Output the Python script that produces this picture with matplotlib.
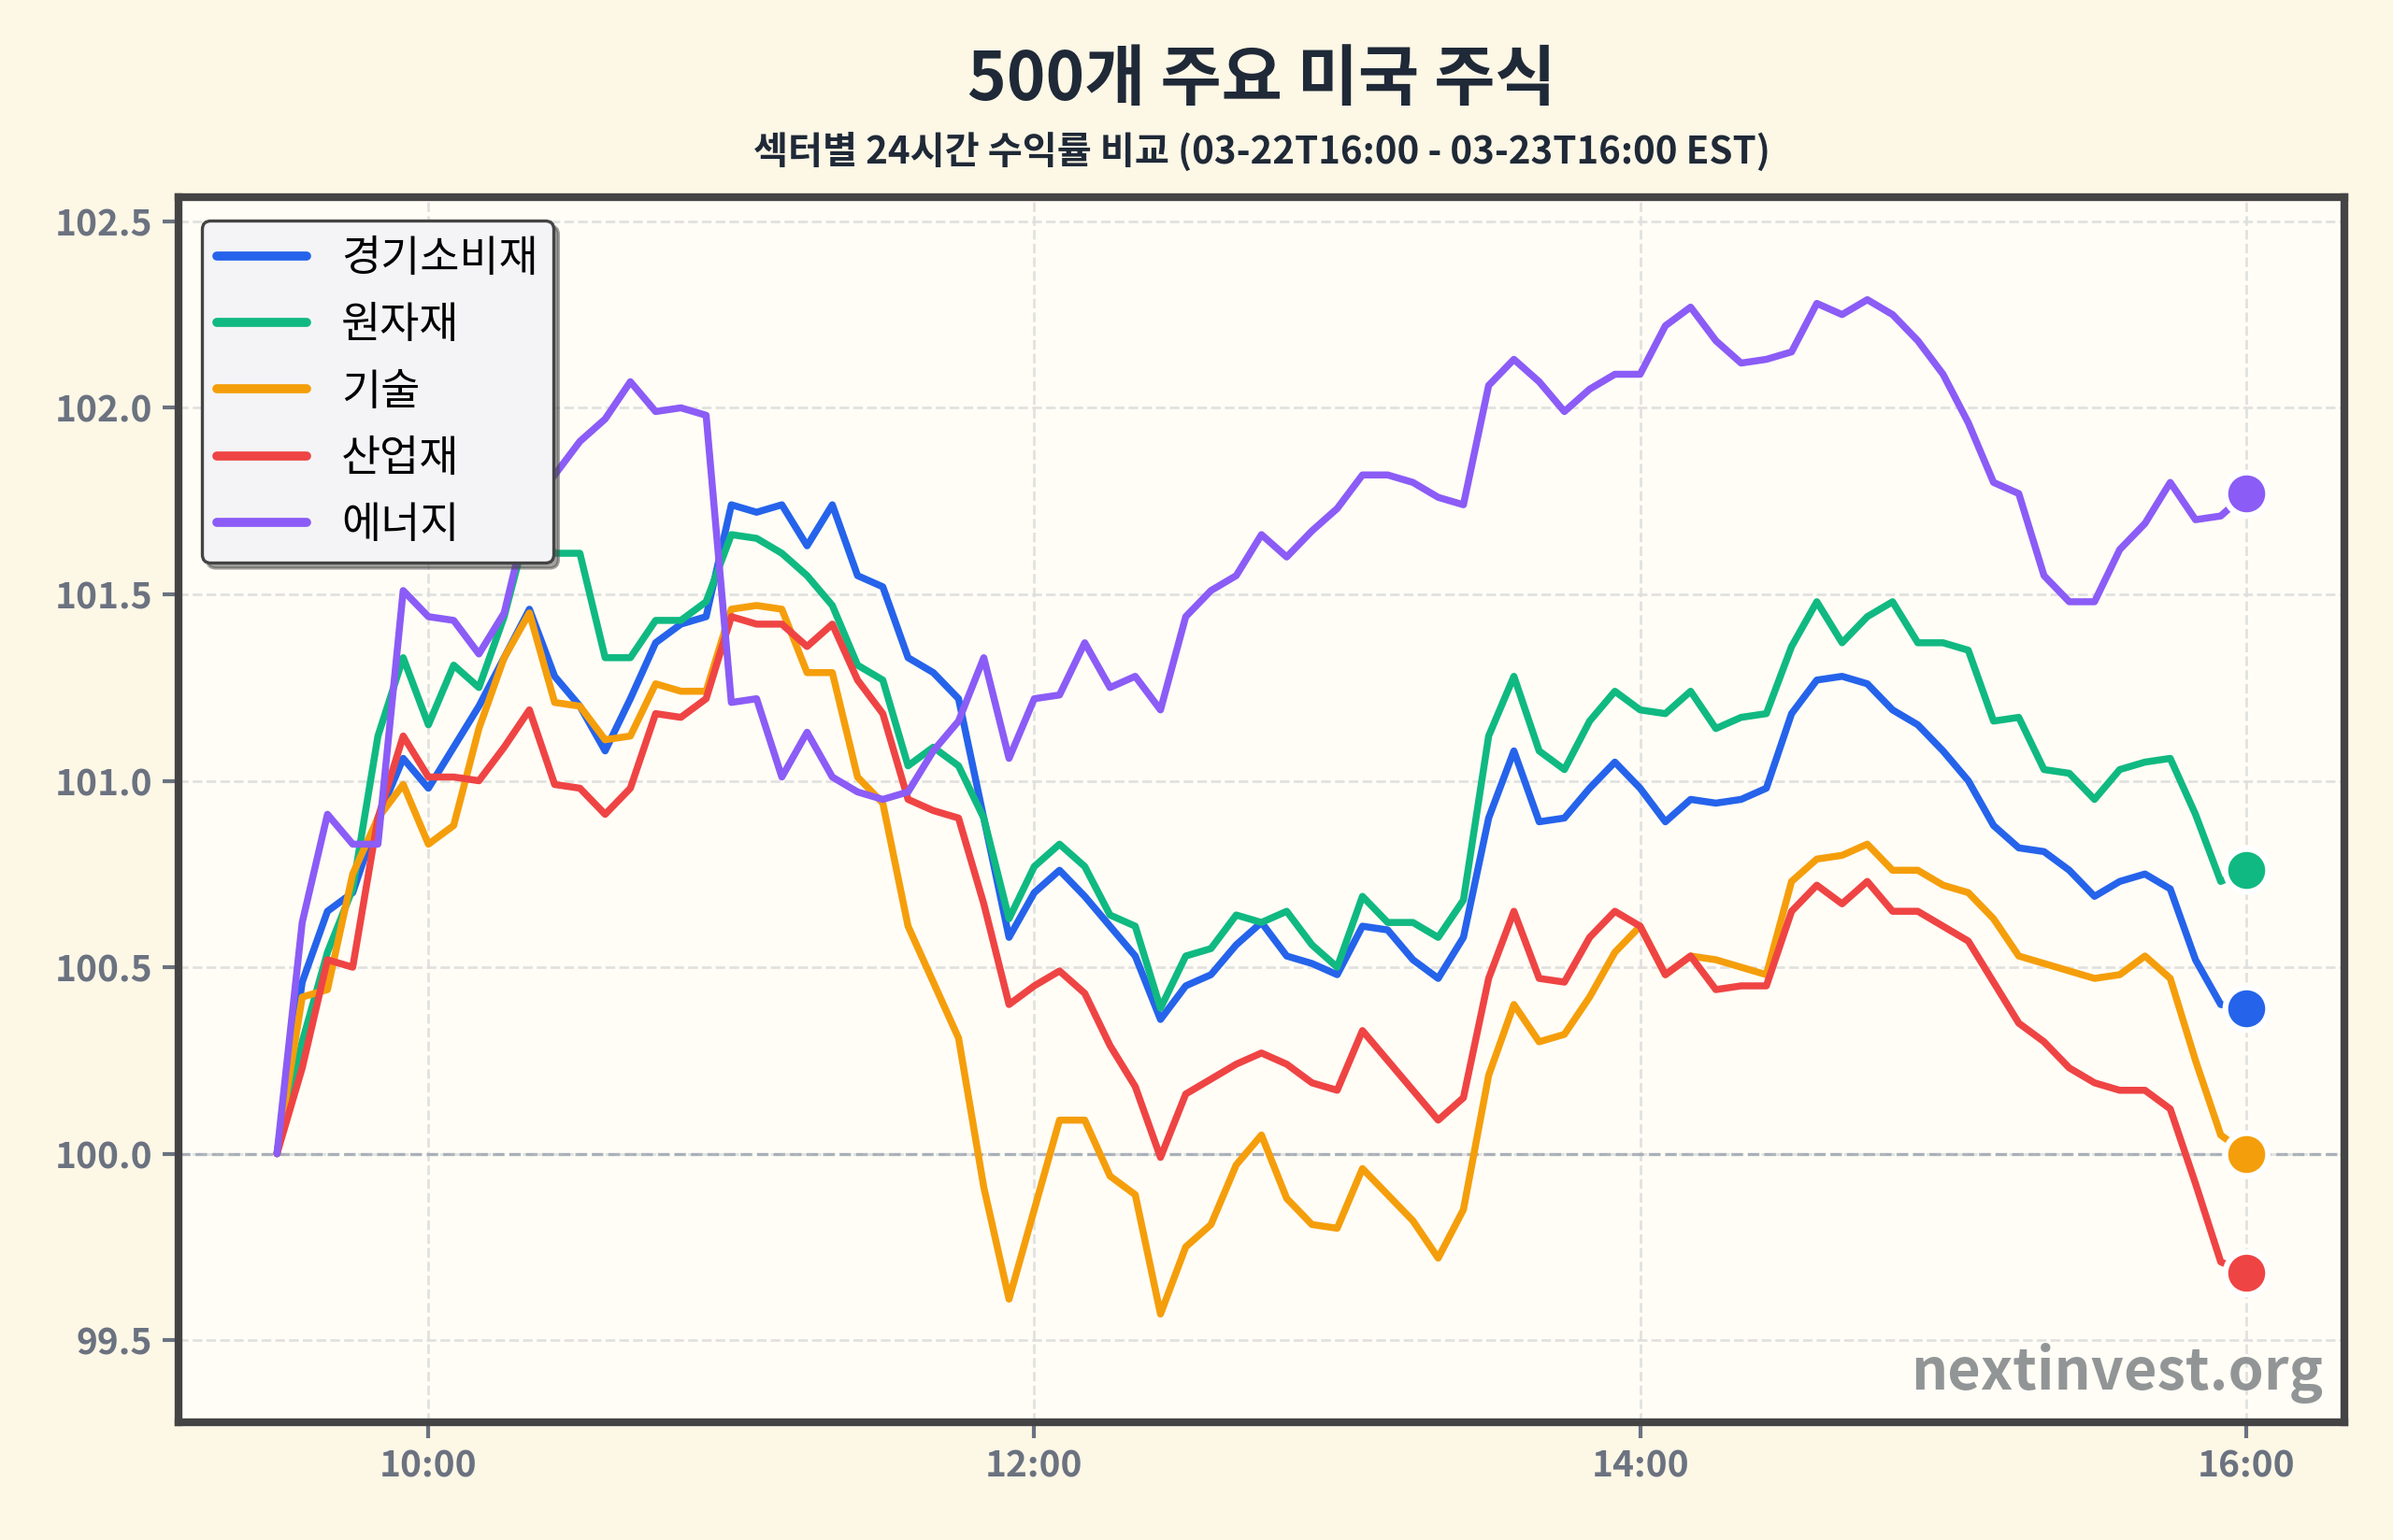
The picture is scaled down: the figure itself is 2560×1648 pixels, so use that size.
"""Sector 24h return comparison chart (S&P 500 sectors, 5-minute bars)."""

import matplotlib
matplotlib.use("Agg")
import matplotlib.pyplot as plt
import matplotlib.dates as mdates
import pandas as pd

plt.rcParams["font.family"] = ["Noto Sans CJK KR", "DejaVu Sans"]

TITLE = "500개 주요 미국 주식"
SUBTITLE = "섹터별 24시간 수익률 비교 (03-22T16:00 - 03-23T16:00 EST)"
WATERMARK = "nextinvest.org"

times = pd.date_range("2024-03-23 09:30", "2024-03-23 16:00", freq="5min")

sectors = ["경기소비재", "원자재", "기술", "산업재", "에너지"]
colors = ["#2563EB", "#10B981", "#F59E0B", "#EF4444", "#8B5CF6"]

consumer = [
    100.0, 100.46, 100.65, 100.70, 100.90, 101.06, 100.98, 101.09, 101.20, 101.33,
    101.46, 101.28, 101.20, 101.08, 101.22, 101.37, 101.42, 101.44, 101.74, 101.72,
    101.74, 101.63, 101.74, 101.55, 101.52, 101.33, 101.29, 101.22, 100.90, 100.58,
    100.70, 100.76, 100.69, 100.61, 100.53, 100.36, 100.45, 100.48, 100.56, 100.62,
    100.53, 100.51, 100.48, 100.61, 100.60, 100.52, 100.47, 100.58, 100.90, 101.08,
    100.89, 100.90, 100.98, 101.05, 100.98, 100.89, 100.95, 100.94, 100.95, 100.98,
    101.18, 101.27, 101.28, 101.26, 101.19, 101.15, 101.08, 101.00, 100.88, 100.82,
    100.81, 100.76, 100.69, 100.73, 100.75, 100.71, 100.52, 100.40, 100.39,
]
materials = [
    100.0, 100.30, 100.54, 100.71, 101.12, 101.33, 101.15, 101.31, 101.25, 101.44,
    101.70, 101.61, 101.61, 101.33, 101.33, 101.43, 101.43, 101.48, 101.66, 101.65,
    101.61, 101.55, 101.47, 101.31, 101.27, 101.04, 101.09, 101.04, 100.90, 100.63,
    100.77, 100.83, 100.77, 100.64, 100.61, 100.39, 100.53, 100.55, 100.64, 100.62,
    100.65, 100.56, 100.50, 100.69, 100.62, 100.62, 100.58, 100.68, 101.12, 101.28,
    101.08, 101.03, 101.16, 101.24, 101.19, 101.18, 101.24, 101.14, 101.17, 101.18,
    101.36, 101.48, 101.37, 101.44, 101.48, 101.37, 101.37, 101.35, 101.16, 101.17,
    101.03, 101.02, 100.95, 101.03, 101.05, 101.06, 100.91, 100.73, 100.76,
]
tech = [
    100.0, 100.42, 100.44, 100.75, 100.90, 100.99, 100.83, 100.88, 101.14, 101.33,
    101.45, 101.21, 101.20, 101.11, 101.12, 101.26, 101.24, 101.24, 101.46, 101.47,
    101.46, 101.29, 101.29, 101.01, 100.94, 100.61, 100.46, 100.31, 99.91, 99.61,
    99.85, 100.09, 100.09, 99.94, 99.89, 99.57, 99.75, 99.81, 99.97, 100.05,
    99.88, 99.81, 99.80, 99.96, 99.89, 99.82, 99.72, 99.85, 100.21, 100.40,
    100.30, 100.32, 100.42, 100.54, 100.61, 100.48, 100.53, 100.52, 100.50, 100.48,
    100.73, 100.79, 100.80, 100.83, 100.76, 100.76, 100.72, 100.70, 100.63, 100.53,
    100.51, 100.49, 100.47, 100.48, 100.53, 100.47, 100.25, 100.05, 100.00,
]
industrials = [
    100.0, 100.23, 100.52, 100.50, 100.90, 101.12, 101.01, 101.01, 101.00, 101.09,
    101.19, 100.99, 100.98, 100.91, 100.98, 101.18, 101.17, 101.22, 101.44, 101.42,
    101.42, 101.36, 101.42, 101.27, 101.18, 100.95, 100.92, 100.90, 100.67, 100.40,
    100.45, 100.49, 100.43, 100.29, 100.18, 99.99, 100.16, 100.20, 100.24, 100.27,
    100.24, 100.19, 100.17, 100.33, 100.25, 100.17, 100.09, 100.15, 100.47, 100.65,
    100.47, 100.46, 100.58, 100.65, 100.61, 100.48, 100.53, 100.44, 100.45, 100.45,
    100.65, 100.72, 100.67, 100.73, 100.65, 100.65, 100.61, 100.57, 100.46, 100.35,
    100.30, 100.23, 100.19, 100.17, 100.17, 100.12, 99.92, 99.71, 99.68,
]
energy = [
    100.0, 100.62, 100.91, 100.83, 100.83, 101.51, 101.44, 101.43, 101.34, 101.45,
    101.73, 101.82, 101.91, 101.97, 102.07, 101.99, 102.00, 101.98, 101.21, 101.22,
    101.01, 101.13, 101.01, 100.97, 100.95, 100.97, 101.08, 101.16, 101.33, 101.06,
    101.22, 101.23, 101.37, 101.25, 101.28, 101.19, 101.44, 101.51, 101.55, 101.66,
    101.60, 101.67, 101.73, 101.82, 101.82, 101.80, 101.76, 101.74, 102.06, 102.13,
    102.07, 101.99, 102.05, 102.09, 102.09, 102.22, 102.27, 102.18, 102.12, 102.13,
    102.15, 102.28, 102.25, 102.29, 102.25, 102.18, 102.09, 101.96, 101.80, 101.77,
    101.55, 101.48, 101.48, 101.62, 101.69, 101.80, 101.70, 101.71, 101.77,
]
series = [consumer, materials, tech, industrials, energy]

y_ticks = [99.5, 100.0, 100.5, 101.0, 101.5, 102.0, 102.5]
y_limits = (99.28, 102.565)

tick_gray = "#6B7280"
frame_gray = "#444444"

fig = plt.figure(figsize=(12.8, 8.24), dpi=200, facecolor="#FDF7E6")
ax_box = [0.0746, 0.0765, 0.9051, 0.7955]
ax = fig.add_axes(ax_box)
ax.set_facecolor("#FFFDF6")

for name, values, color in zip(sectors, series, colors):
    ax.plot(times, values, color=color, linewidth=2.7, label=name, zorder=3,
            solid_capstyle="round", solid_joinstyle="round")
    ax.scatter(times[-1], values[-1], s=270, color=color, edgecolor="white",
               linewidth=2.2, zorder=5)

ax.axhline(100, color="#9CA3AF", linestyle="--", linewidth=1.2, alpha=0.8, zorder=2)
ax.grid(True, linestyle="--", linewidth=1.0, color="#DEDEDE", alpha=0.9, zorder=1)

ax.set_ylim(*y_limits)
ax.set_yticks(y_ticks)
ax.yaxis.set_major_formatter(matplotlib.ticker.FormatStrFormatter("%.1f"))
ax.xaxis.set_major_locator(mdates.HourLocator(byhour=[10, 12, 14, 16]))
ax.xaxis.set_major_formatter(mdates.DateFormatter("%H:%M"))
ax.margins(x=0.05)

ax.tick_params(axis="both", colors=tick_gray, labelsize=14, length=6, width=1.5,
               pad=4)
for lbl in ax.get_xticklabels() + ax.get_yticklabels():
    lbl.set_fontweight("bold")

for spine in ax.spines.values():
    spine.set_color(frame_gray)
    spine.set_linewidth(3)

leg = ax.legend(loc="upper left", fontsize=16.5, shadow=True, fancybox=True,
                framealpha=1, facecolor="#F4F4F6", edgecolor=frame_gray,
                handlelength=2.1, handletextpad=0.8, labelspacing=0.5,
                borderaxespad=0.55, borderpad=0.35)
leg.get_frame().set_linewidth(1.2)
for line in leg.get_lines():
    line.set_linewidth(3.5)

ax.text(0.99, 0.015, WATERMARK, transform=ax.transAxes, ha="right", va="bottom",
        fontsize=22, fontweight="bold", color="#868A8C", alpha=0.9, zorder=6)

# titles are centred over the plotting area, not the whole figure
title_x = ax_box[0] + ax_box[2] / 2
fig.text(title_x, 0.948, TITLE, ha="center", va="center", fontsize=25.5,
         fontweight="bold", color="#1F2937")
fig.text(title_x, 0.901, SUBTITLE, ha="center", va="center", fontsize=14.5,
         fontweight="bold", color="#1F2937")

fig.savefig("out.png", dpi=200, facecolor=fig.get_facecolor())
plt.close(fig)
